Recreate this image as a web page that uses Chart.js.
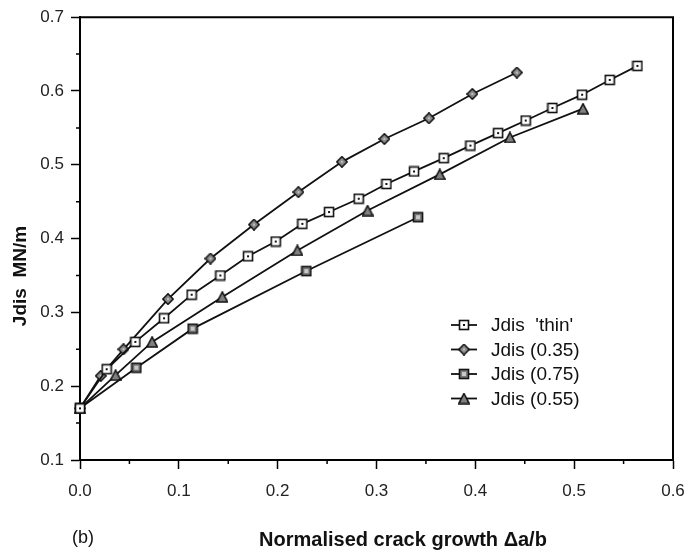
<!DOCTYPE html>
<html>
<head>
<meta charset="utf-8">
<script src="https://cdn.jsdelivr.net/npm/chart.js@4"></script>
<style>
  html, body { margin: 0; padding: 0; background: #fff; }
  #wrap { width: 697px; height: 551px; position: relative; }
</style>
</head>
<body>
<div id="wrap"><canvas id="crackChart" width="697" height="551"></canvas></div>
<script>
// Jdis vs normalised crack growth, four specimen sets
const thinX = [0, 0.027, 0.056, 0.085, 0.113, 0.142, 0.170, 0.198, 0.225, 0.252, 0.282, 0.310, 0.338, 0.368, 0.395, 0.423, 0.451, 0.478, 0.508, 0.536, 0.564];
const thinY = [0.170, 0.223, 0.260, 0.292, 0.324, 0.350, 0.376, 0.396, 0.420, 0.436, 0.454, 0.474, 0.491, 0.509, 0.526, 0.543, 0.560, 0.577, 0.595, 0.615, 0.634];

const j035X = [0, 0.021, 0.044, 0.089, 0.132, 0.176, 0.221, 0.265, 0.308, 0.353, 0.397, 0.442];
const j035Y = [0.170, 0.214, 0.250, 0.318, 0.373, 0.419, 0.463, 0.504, 0.535, 0.563, 0.596, 0.625];

const j075X = [0, 0.057, 0.114, 0.229, 0.342];
const j075Y = [0.170, 0.225, 0.278, 0.356, 0.429];

const j055X = [0, 0.036, 0.073, 0.144, 0.220, 0.291, 0.364, 0.435, 0.509];
const j055Y = [0.170, 0.215, 0.260, 0.321, 0.384, 0.438, 0.487, 0.537, 0.576];

const seriesLabels = ["Jdis  'thin'", 'Jdis (0.35)', 'Jdis (0.75)', 'Jdis (0.55)'];
const xTicks = [0, 0.1, 0.2, 0.3, 0.4, 0.5, 0.6];
const yTicks = [0.1, 0.2, 0.3, 0.4, 0.5, 0.6, 0.7];

const FONT = 'Liberation Sans, Arial, sans-serif';

// small canvas markers
function makeMarker(kind) {
    const c = document.createElement('canvas');
    c.width = 12; c.height = 12;
    const g = c.getContext('2d');
    g.lineWidth = 1.6;
    g.strokeStyle = '#111';
    if (kind === 'thin') {
        g.fillStyle = '#fff';
        g.fillRect(1, 1, 10, 10);
        g.strokeRect(1.5, 1.5, 9, 9);
        g.fillStyle = '#111';
        g.fillRect(5, 5, 2, 2);
    } else if (kind === 'diamond') {
        g.fillStyle = '#8c8c8c';
        g.beginPath();
        g.moveTo(6, 0.8); g.lineTo(11.2, 6); g.lineTo(6, 11.2); g.lineTo(0.8, 6);
        g.closePath();
        g.fill(); g.stroke();
        g.fillStyle = '#bdbdbd';
        g.fillRect(5, 5, 2, 2);
    } else if (kind === 'square') {
        g.fillStyle = '#7a7a7a';
        g.fillRect(1, 1, 10, 10);
        g.strokeRect(1.5, 1.5, 9, 9);
        g.fillStyle = '#c8c8c8';
        g.fillRect(4, 4, 4, 4);
    } else {
        g.fillStyle = '#808080';
        g.beginPath();
        g.moveTo(6, 1); g.lineTo(11.2, 11); g.lineTo(0.8, 11);
        g.closePath();
        g.fill(); g.stroke();
    }
    return c;
}

const markers = [makeMarker('thin'), makeMarker('diamond'), makeMarker('square'), makeMarker('tri')];
const xs = [thinX, j035X, j075X, j055X];
const ys = [thinY, j035Y, j075Y, j055Y];

const datasets = seriesLabels.map((label, i) => ({
    label: label,
    data: xs[i].map((x, k) => ({ x: x, y: ys[i][k] })),
    borderColor: '#111',
    borderWidth: 1.8,
    pointStyle: markers[i],
    pointRadius: 6,
    showLine: true,
    fill: false,
    clip: false,
    tension: 0
}));

// frame, minor ticks, legend and axis titles
const decorPlugin = {
    id: 'decor',
    afterDraw(chart) {
        const ctx = chart.ctx;
        const a = chart.chartArea;
        const sx = chart.scales.x, sy = chart.scales.y;
        ctx.save();
        ctx.strokeStyle = '#000';
        ctx.lineWidth = 2;
        ctx.beginPath();
        ctx.moveTo(a.left, a.top); ctx.lineTo(a.right, a.top); ctx.lineTo(a.right, a.bottom);
        ctx.stroke();

        // minor ticks
        ctx.lineWidth = 1.5;
        ctx.beginPath();
        for (let v = 0.05; v < 0.6; v += 0.1) {
            const px = sx.getPixelForValue(v);
            ctx.moveTo(px, a.bottom); ctx.lineTo(px, a.bottom + 4);
        }
        for (let v = 0.15; v < 0.7; v += 0.1) {
            const py = sy.getPixelForValue(v);
            ctx.moveTo(a.left, py); ctx.lineTo(a.left - 4, py);
        }
        ctx.stroke();

        // legend
        const lx = 451, lw = 26, ly0 = 325, step = 24.5;
        ctx.font = '19px ' + FONT;
        ctx.textBaseline = 'middle';
        ctx.fillStyle = '#111';
        seriesLabels.forEach((t, i) => {
            const y = ly0 + i * step;
            ctx.lineWidth = 1.8;
            ctx.strokeStyle = '#111';
            ctx.beginPath();
            ctx.moveTo(lx, y); ctx.lineTo(lx + lw, y);
            ctx.stroke();
            ctx.drawImage(markers[i], lx + lw / 2 - 6, y - 6);
            ctx.fillText(t, lx + 40, y + 1);
        });

        // axis titles
        ctx.font = 'bold 20px ' + FONT;
        ctx.textAlign = 'center';
        ctx.fillText('Normalised crack growth \u0394a/b', 403, 540);
        ctx.font = '18px ' + FONT;
        ctx.fillText('(b)', 83, 538);
        ctx.translate(21, 276);
        ctx.rotate(-Math.PI / 2);
        ctx.font = 'bold 19px ' + FONT;
        ctx.fillText('Jdis  MN/m', 0, 0);
        ctx.restore();
    }
};

const chart = new Chart(document.getElementById('crackChart'), {
    type: 'line',
    data: { datasets: datasets },
    options: {
        responsive: false,
        animation: false,
        devicePixelRatio: 1,
        layout: { padding: { top: 17, right: 24, left: 0, bottom: 0 } },
        plugins: { legend: { display: false }, tooltip: { enabled: false } },
        scales: {
            x: {
                type: 'linear',
                min: 0, max: 0.6,
                afterBuildTicks: s => { s.ticks = xTicks.map(v => ({ value: v })); },
                afterFit: s => { s.height = 91; },
                border: { display: true, color: '#000', width: 2 },
                grid: { display: true, drawOnChartArea: false, drawTicks: true, tickLength: 9, tickColor: '#000', tickWidth: 1.5 },
                ticks: { padding: 12, color: '#222', font: { family: FONT, size: 17 }, callback: v => v.toFixed(1), maxRotation: 0 }
            },
            y: {
                type: 'linear',
                min: 0.1, max: 0.7,
                afterBuildTicks: s => { s.ticks = yTicks.map(v => ({ value: v })); },
                afterFit: s => { s.width = 80; },
                border: { display: true, color: '#000', width: 2 },
                grid: { display: true, drawOnChartArea: false, drawTicks: true, tickLength: 9, tickColor: '#000', tickWidth: 1.5 },
                ticks: { padding: 7, color: '#222', font: { family: FONT, size: 17 }, callback: v => v.toFixed(1) }
            }
        }
    },
    plugins: [decorPlugin]
});
</script>
</body>
</html>
